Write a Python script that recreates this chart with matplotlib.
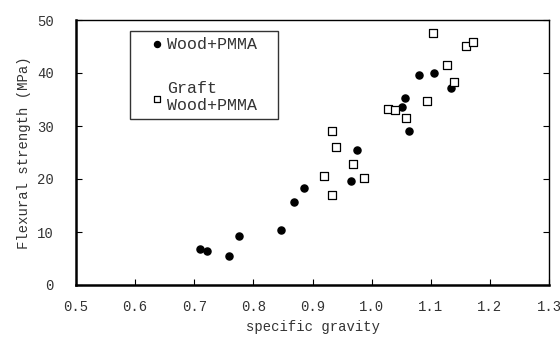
import matplotlib
matplotlib.use("Agg")
import matplotlib.pyplot as plt
from matplotlib.patches import Rectangle

# Wood+PMMA
wood_sg = [0.710, 0.722, 0.759, 0.775, 0.846, 0.868, 0.885, 0.965, 0.975,
           1.051, 1.056, 1.064, 1.080, 1.106, 1.135]
wood_fs = [6.7, 6.5, 5.5, 9.2, 10.3, 15.6, 18.3, 19.6, 25.4,
           33.6, 35.2, 29.1, 39.6, 40.0, 37.2]

# Graft Wood+PMMA
graft_sg = [0.933, 0.940, 0.919, 0.933, 0.969, 0.987, 1.027, 1.040, 1.058,
            1.093, 1.104, 1.128, 1.139, 1.160, 1.171]
graft_fs = [29.0, 26.0, 20.6, 16.9, 22.8, 20.1, 33.3, 33.0, 31.5,
            34.7, 47.5, 41.6, 38.3, 45.1, 45.8]

xticks = [0.5, 0.6, 0.7, 0.8, 0.9, 1.0, 1.1, 1.2, 1.3]
yticks = [0, 10, 20, 30, 40, 50]

plt.rcParams['font.family'] = ['Liberation Mono', 'DejaVu Sans Mono']

fig = plt.figure(figsize=(5.6, 3.38), dpi=100)
ax = fig.add_axes([76 / 560, 53 / 338, 473 / 560, 265 / 338])

ax.scatter(wood_sg, wood_fs, s=26, marker='o', color='black', label='Wood+PMMA', zorder=3)
ax.scatter(graft_sg, graft_fs, s=28, marker='s', facecolor='white', edgecolor='black',
           linewidths=0.9, label='Graft\nWood+PMMA', zorder=3)

ax.set_xlim(0.5, 1.3)
ax.set_ylim(0, 50)
ax.set_xticks(xticks)
ax.set_xticklabels(['%.1f' % v for v in xticks])
ax.set_yticks(yticks)
ax.tick_params(direction='in', length=4, width=0.8, labelsize=10, colors='black',
               right=True, labelcolor='#333333')
ax.tick_params(axis='x', pad=11)
ax.tick_params(axis='y', pad=16)

ax.spines['left'].set_linewidth(1.8)
ax.spines['bottom'].set_linewidth(1.8)
ax.spines['top'].set_linewidth(1.0)
ax.spines['right'].set_linewidth(1.0)

ax.set_xlabel('specific gravity', fontsize=10, color='#333333', labelpad=4)
ax.set_ylabel('Flexural strength (MPa)', fontsize=10, color='#333333', labelpad=4)

# legend text without frame, box drawn separately to match the wide frame
leg = ax.legend(loc='upper left', bbox_to_anchor=(68 / 473, 255 / 265), frameon=False,
                fontsize=12, borderpad=0.4, borderaxespad=0, handlelength=0.8,
                handletextpad=0.2, labelspacing=1.75, markerscale=0.85)
for t in leg.get_texts():
    t.set_color('#333333')
ax.add_patch(Rectangle((54 / 473, 166 / 265), 148 / 473, 88 / 265, transform=ax.transAxes,
                       fill=False, edgecolor='#333333', linewidth=1.0, zorder=4))

fig.savefig('out.png', dpi=100)
